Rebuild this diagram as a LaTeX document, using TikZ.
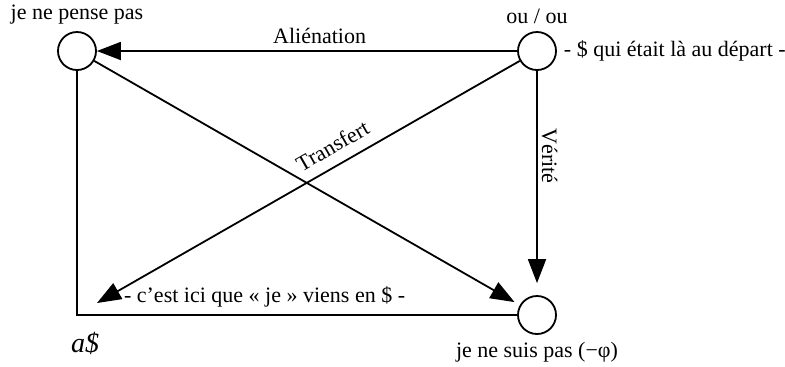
\documentclass[tikz,border=0pt]{standalone}
\usepackage{fontspec}
\setmainfont{Liberation Serif}
\usepackage{tikz}
\usetikzlibrary{arrows.meta,positioning}

\begin{document}
\begin{tikzpicture}[x=0.5pt,y=-0.5pt,
  every node/.style={font=\fontsize{11}{13}\selectfont},
  rond/.style={draw, circle, line width=0.9pt, minimum size=19pt, inner sep=0pt},
  trait/.style={line width=0.9pt},
  fleche/.style={trait, -{Triangle[length=12pt,width=9pt]}}]
  \useasboundingbox (0,0) rectangle (785,366);

  % les trois places
  \node[rond] (jnp) at (77,51) {};
  \node[rond] (ouou) at (537,51) {};
  \node[rond] (jnsp) at (537,315) {};
  \coordinate (coin) at (jnp |- jnsp);
  \coordinate (ici) at (97,303);

  \node[above=0pt of jnp] (jnpL) {je ne pense pas};
  \node[above=0pt of ouou] (ououL) {ou / ou};
  \node[right=0pt of ouou] (depart) {- \$ qui était là au départ -};
  \node[below=0pt of jnsp] (jnspL) {je ne suis pas (−φ)};
  \node[below=5pt of coin, xshift=4pt, font=\fontsize{14}{16}\selectfont\itshape] (aS) {a\$};
  \node[right=10pt of ici, yshift=3pt] (iciL) {- c'est ici que «~je~» viens en \$ -};

  % liaisons
  \draw[trait] (jnp) -- (coin) -- (jnsp);
  \draw[fleche] (ouou) -- node[above, pos=0.47] {Aliénation} (jnp);
  \draw[fleche, shorten >=6pt] (ouou) -- node[pos=0.38, rotate=-90, anchor=south, inner sep=2pt] {Vérité} (jnsp);
  \draw[fleche, shorten >=3pt] (jnp) -- (jnsp);
  \draw[fleche] (ouou) -- node[pos=0.42, sloped, above=2pt] {Transfert} (ici);
\end{tikzpicture}
\end{document}
